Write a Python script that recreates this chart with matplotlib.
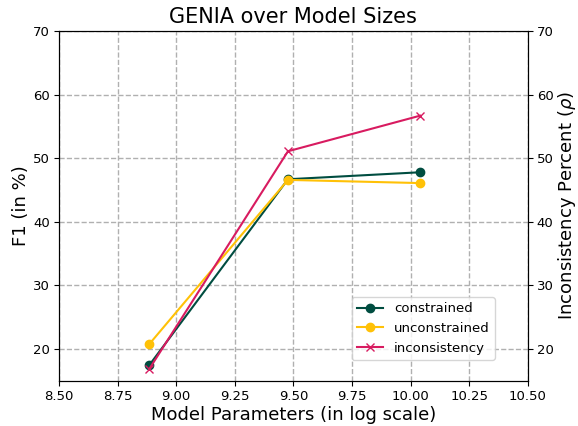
import matplotlib.pyplot as plt

# model sizes (log10 of params)
sizes = [8.886, 9.477, 10.041]
constrained = [17.5, 46.7, 47.8]
unconstrained = [20.8, 46.6, 46.1]
inconsistency = [16.9, 51.1, 56.7]

fig = plt.figure(figsize=(5.78, 4.26), dpi=100)
ax = fig.add_axes([0.102, 0.106, 0.811, 0.821])
ax2 = ax.twinx()

l1, = ax.plot(sizes, constrained, marker="o", color="#004d40", label="constrained")
l2, = ax.plot(sizes, unconstrained, marker="o", color="#ffc107", label="unconstrained")
l3, = ax2.plot(sizes, inconsistency, marker="x", color="#d81b60", label="inconsistency")

ax.set_xlim(8.5, 10.5)
ax.set_ylim(15, 70)
ax2.set_ylim(15, 70)
ax.set_xticks([8.5, 8.75, 9.0, 9.25, 9.5, 9.75, 10.0, 10.25, 10.5])
ax.tick_params(labelsize=9.5, pad=3)
ax2.tick_params(labelsize=9.5, pad=3)
ax.grid(True, linestyle="--", color="#b0b0b0", linewidth=1)

ax.set_title("GENIA over Model Sizes", fontsize=15)
ax.set_xlabel("Model Parameters (in log scale)", fontsize=13, labelpad=2)
ax.set_ylabel("F1 (in %)", fontsize=13, labelpad=2)
ax2.set_ylabel(r"Inconsistency Percent ($\rho$)", fontsize=13, labelpad=2)

ax2.legend(handles=[l1, l2, l3], loc="lower right", bbox_to_anchor=(0.93, 0.06),
           borderaxespad=0, fontsize=9.5)

fig.savefig("out.png", dpi=100)
